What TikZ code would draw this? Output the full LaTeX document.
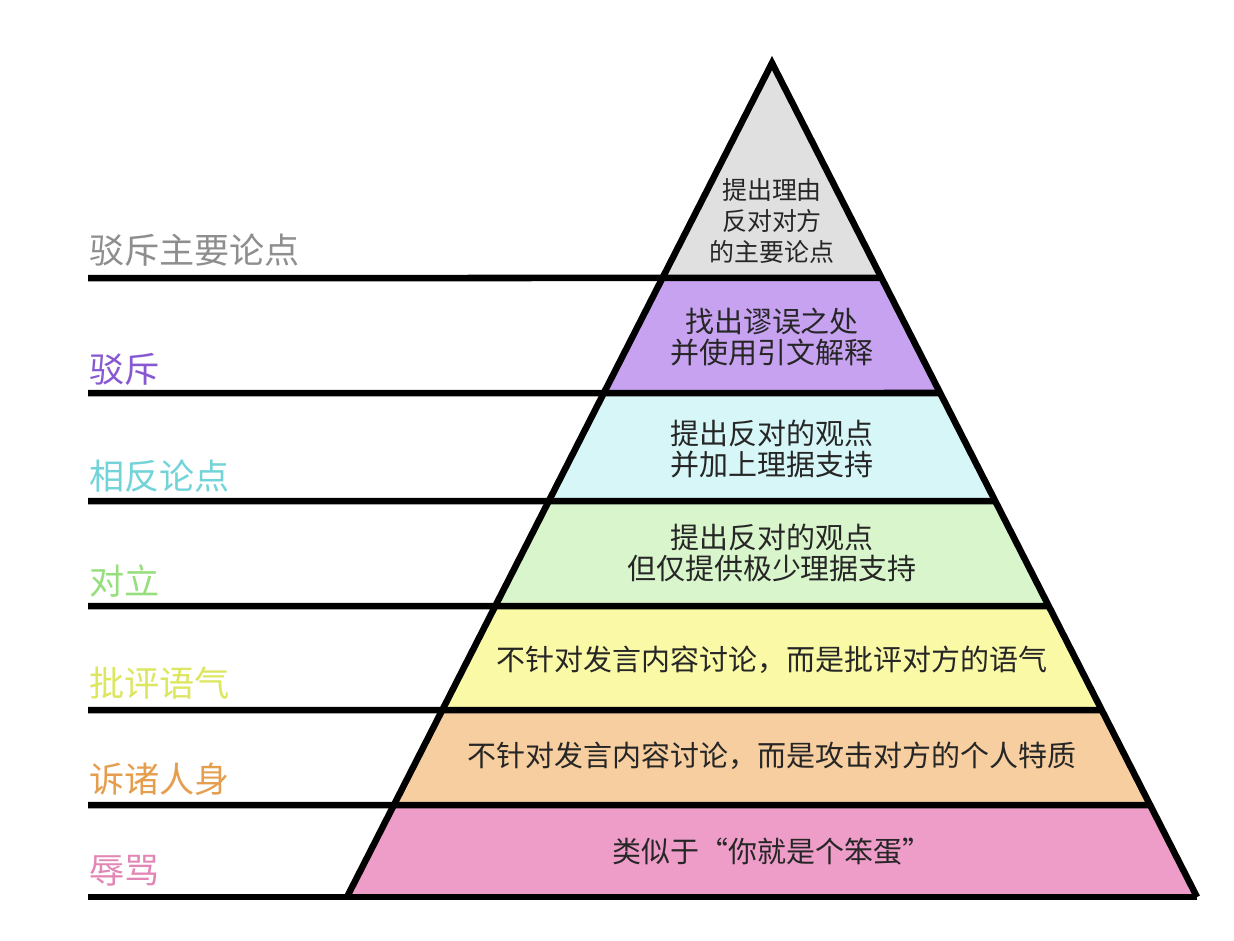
\documentclass[tikz,border=0pt]{standalone}
\usepackage{fontspec}
\setmainfont{Noto Sans CJK SC}
\usepackage{xcolor}
\usepackage{tikz}
\usetikzlibrary{calc}

\definecolor{lvA}{HTML}{E0E0E0}
\definecolor{lvB}{HTML}{C6A2F0}
\definecolor{lvC}{HTML}{D6F6F7}
\definecolor{lvD}{HTML}{D9F5CB}
\definecolor{lvE}{HTML}{FAF9A6}
\definecolor{lvF}{HTML}{F6CE9F}
\definecolor{lvG}{HTML}{EE9DC8}
\definecolor{labA}{HTML}{8E8E8E}
\definecolor{labB}{HTML}{8758D2}
\definecolor{labC}{HTML}{72D3D8}
\definecolor{labD}{HTML}{96DE7E}
\definecolor{labE}{HTML}{DCE65E}
\definecolor{labF}{HTML}{E59E4E}
\definecolor{labG}{HTML}{E286B6}

\begin{document}
\begin{tikzpicture}[x=0.02cm, y=-0.02cm, line width=3.7pt]
    \useasboundingbox (0,0) rectangle (1234,940);
    \coordinate (apex) at (772,63);
    \coordinate (bl) at (347,897);
    \coordinate (br) at (1197,897);
    % coloured bands of the pyramid
    \foreach \i/\ya/\yb/\col in {1/63/278/lvA, 2/278/393/lvB, 3/393/501/lvC,
      4/501/606/lvD, 5/606/710/lvE, 6/710/805/lvF, 7/805/897/lvG} {
      \fill[\col] ($(apex)!{(\ya-63)/834}!(bl)$) -- ($(apex)!{(\yb-63)/834}!(bl)$)
        -- ($(apex)!{(\yb-63)/834}!(br)$) -- ($(apex)!{(\ya-63)/834}!(br)$) -- cycle;
      \coordinate (r\i) at ($(apex)!{(\yb-63)/834}!(br)$);
      \coordinate (s\i) at (88,\yb);
    }
    \draw[line join=miter] (bl) -- (apex) -- (br);
    % levels: rule, side label, text inside
    \foreach \i/\lab/\lc/\ly/\txt/\ty/\fs in {
      1/驳斥主要论点/labA/250/{提出理由\\反对对方\\的主要论点}/221/14.2,
      2/驳斥/labB/369/{找出谬误之处\\并使用引文解释}/337/16.5,
      3/相反论点/labC/476/{提出反对的观点\\并加上理据支持}/449/16.5,
      4/对立/labD/581/{提出反对的观点\\但仅提供极少理据支持}/553/16.5,
      5/批评语气/labE/683/{不针对发言内容讨论，而是批评对方的语气}/660/16.5,
      6/诉诸人身/labF/779/{不针对发言内容讨论，而是攻击对方的个人特质}/756/16.5,
      7/辱骂/labG/871/{类似于“你就是个笨蛋”}/852/16.5} {
      \draw (s\i) -- (r\i);
      \node (lab\i) [anchor=west, inner sep=0pt, text=\lc,
        font=\fontsize{20}{24}\selectfont] at (86,\ly) {\lab};
      \node (txt\i) [align=center, inner sep=0pt, text=black!85,
        font=\fontsize{\fs}{17.6}\selectfont] at (772,\ty) {\txt};
    }
\end{tikzpicture}
\end{document}
